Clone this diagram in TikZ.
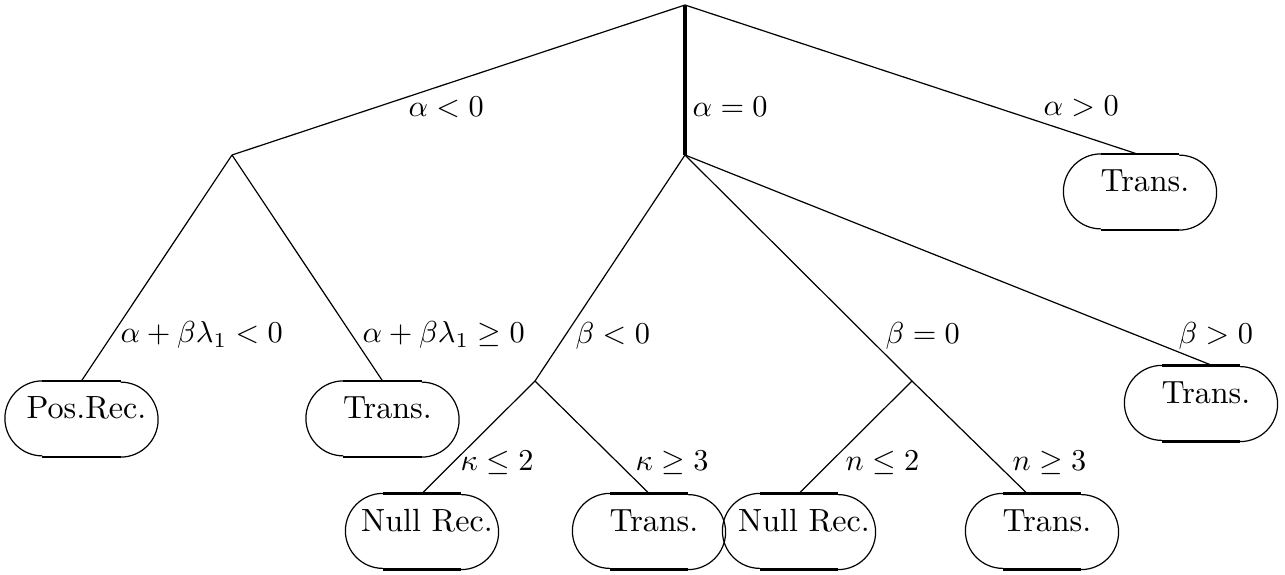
\documentclass[tikz,border=0pt]{standalone}
\usepackage{amsmath}
\def\uu{0.33pt}
\tikzset{
  leaf/.style={draw=none,rectangle,minimum width=152*\uu,minimum height=75*\uu,inner sep=0pt},
  leaftext/.style={anchor=base,inner sep=0pt,font=\fontsize{10.6pt}{13pt}\selectfont},
  edge/.style={line width=0.4pt},
  mainedge/.style={line width=1.1pt},
  lbl/.style={anchor=base west,inner sep=0pt},
  arcline/.style={line width=0.4pt},
  flatline/.style={line width=0.85pt}
}
\newcommand\leafnode[3]{%
  \node[leaf] (#1) at (#2) {};
  \node[leaftext] (#1t) at ([xshift=5*\uu]#1.center) {#3};
  \draw[arcline] ([xshift=37.5*\uu]#1.north west) arc[start angle=90,end angle=270,radius=37.5*\uu];
  \draw[arcline] ([xshift=-37.5*\uu]#1.south east) arc[start angle=-90,end angle=90,radius=37.5*\uu];
  \draw[flatline] ([xshift=37.5*\uu]#1.north west) -- ([xshift=-37.5*\uu]#1.north east);
  \draw[flatline] ([xshift=37.5*\uu]#1.south west) -- ([xshift=-37.5*\uu]#1.south east);
}
\begin{document}
\begin{tikzpicture}[x=\uu,y=-\uu]
\useasboundingbox (0,0) rectangle (1285,575);
% inner points
\coordinate (root) at (685,5);
\coordinate (a) at (232,155);
\coordinate (b) at (685,155);
\coordinate (c) at (535,381);
\coordinate (d) at (912,381);
% leaves
\leafnode{L1}{81.5,419}{Pos.Rec.}
\leafnode{L2}{382.5,419}{Trans.}
\leafnode{L3}{1140,192}{Trans.}
\leafnode{L4}{422,531.5}{Null Rec.}
\leafnode{L5}{649,531.5}{Trans.}
\leafnode{L6}{799,531.5}{Null Rec.}
\leafnode{L7}{1042,531.5}{Trans.}
\leafnode{L8}{1201,403.5}{Trans.}
% edges
\draw[edge] (root) -- (a);
\draw[mainedge] (root) -- (b);
\draw[edge] (root) -- ([xshift=-3*\uu]L3.north);
\draw[edge] (a) -- (L1.north);
\draw[edge] (a) -- (L2.north);
\draw[edge] (b) -- (c);
\draw[edge] (b) -- (d);
\draw[edge] (b) -- ([xshift=11*\uu]L8.north);
\draw[edge] (c) -- (L4.north);
\draw[edge] (c) -- (L5.north);
\draw[edge] (d) -- (L6.north);
\draw[edge] (d) -- ([xshift=-15*\uu]L7.north);
% labels
\node[lbl] (l1) at (408,117) {$\alpha<0$};
\node[lbl] (l2) at (692,117) {$\alpha=0$};
\node[lbl] (l3) at (1043,116) {$\alpha>0$};
\node[lbl] (l4) at (120,343) {$\alpha+\beta\lambda_1<0$};
\node[lbl] (l5) at (362,343) {$\alpha+\beta\lambda_1\geq 0$};
\node[lbl] (l6) at (575,344) {$\beta<0$};
\node[lbl] (l7) at (885,344) {$\beta=0$};
\node[lbl] (l8) at (1178,344) {$\beta>0$};
\node[lbl] (l9) at (460,471) {$\kappa\leq 2$};
\node[lbl] (l10) at (635,471) {$\kappa\geq 3$};
\node[lbl] (l11) at (845,471) {$n\leq 2$};
\node[lbl] (l12) at (1012,471) {$n\geq 3$};
\end{tikzpicture}
\end{document}
